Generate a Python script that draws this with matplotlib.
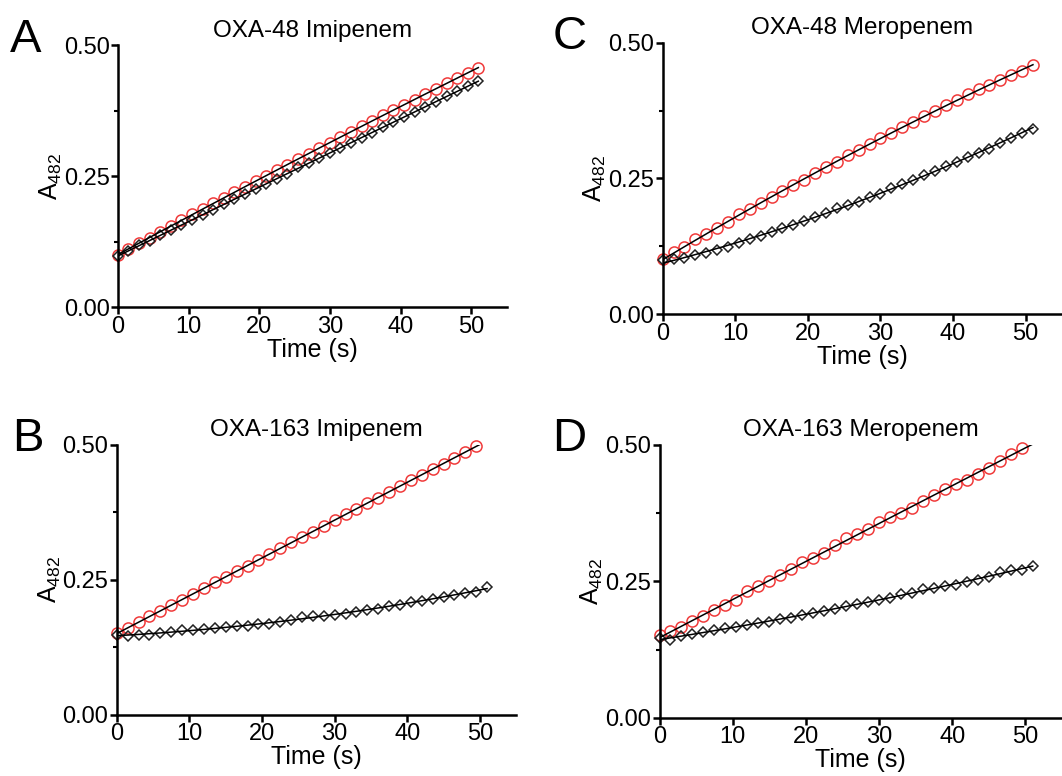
import numpy as np
import matplotlib
matplotlib.use('Agg')
import matplotlib.pyplot as plt
from matplotlib.ticker import MultipleLocator, FormatStrFormatter

plt.rcParams['font.family'] = ['Liberation Sans', 'DejaVu Sans']

# time points (s), one reading every 1.5 s
t_full = np.arange(0, 51.01, 1.5)

# A: OXA-48 Imipenem
a_red = [0.100, 0.112, 0.122, 0.133, 0.144, 0.155, 0.166, 0.177, 0.187, 0.198,
         0.209, 0.219, 0.230, 0.241, 0.251, 0.262, 0.272, 0.283, 0.293, 0.304,
         0.314, 0.324, 0.335, 0.345, 0.355, 0.366, 0.376, 0.386, 0.396, 0.406,
         0.417, 0.427, 0.437, 0.447, 0.457]
a_blk = [0.098, 0.108, 0.118, 0.127, 0.137, 0.147, 0.157, 0.166, 0.176, 0.186,
         0.196, 0.206, 0.216, 0.225, 0.235, 0.245, 0.255, 0.267, 0.276, 0.285,
         0.294, 0.304, 0.314, 0.323, 0.333, 0.343, 0.353, 0.363, 0.372, 0.382,
         0.392, 0.402, 0.412, 0.421, 0.431]

# C: OXA-48 Meropenem
c_red = [0.101, 0.114, 0.124, 0.138, 0.147, 0.159, 0.170, 0.184, 0.193, 0.205,
         0.216, 0.227, 0.238, 0.248, 0.261, 0.271, 0.281, 0.293, 0.303, 0.313,
         0.324, 0.334, 0.344, 0.354, 0.365, 0.374, 0.385, 0.394, 0.405, 0.414,
         0.423, 0.432, 0.440, 0.448, 0.459]
c_blk = [0.100, 0.101, 0.104, 0.109, 0.113, 0.119, 0.124, 0.132, 0.138, 0.144,
         0.152, 0.158, 0.164, 0.171, 0.179, 0.187, 0.195, 0.201, 0.207, 0.215,
         0.222, 0.232, 0.239, 0.248, 0.256, 0.264, 0.273, 0.281, 0.289, 0.297,
         0.305, 0.316, 0.325, 0.334, 0.342]

# B: OXA-163 Imipenem
b_red = [0.151, 0.160, 0.171, 0.182, 0.192, 0.203, 0.213, 0.224, 0.234, 0.245,
         0.255, 0.266, 0.276, 0.287, 0.297, 0.308, 0.319, 0.329, 0.339, 0.350,
         0.360, 0.371, 0.380, 0.392, 0.402, 0.413, 0.423, 0.434, 0.444, 0.455,
         0.465, 0.476, 0.486, 0.497]
b_blk = [0.148, 0.145, 0.148, 0.148, 0.151, 0.154, 0.156, 0.157, 0.159, 0.160,
         0.162, 0.165, 0.165, 0.167, 0.168, 0.171, 0.175, 0.181, 0.182, 0.183,
         0.185, 0.187, 0.191, 0.194, 0.196, 0.201, 0.204, 0.209, 0.210, 0.215,
         0.218, 0.222, 0.225, 0.228, 0.236]

# D: OXA-163 Meropenem
d_red = [0.152, 0.159, 0.166, 0.177, 0.186, 0.197, 0.207, 0.216, 0.232, 0.241,
         0.250, 0.262, 0.273, 0.285, 0.293, 0.302, 0.317, 0.329, 0.337, 0.346,
         0.358, 0.368, 0.375, 0.384, 0.396, 0.407, 0.418, 0.428, 0.436, 0.447,
         0.457, 0.470, 0.482, 0.494]
d_blk = [0.146, 0.143, 0.149, 0.154, 0.157, 0.160, 0.164, 0.166, 0.169, 0.173,
         0.176, 0.180, 0.183, 0.188, 0.192, 0.195, 0.199, 0.204, 0.209, 0.212,
         0.216, 0.220, 0.226, 0.229, 0.235, 0.238, 0.241, 0.244, 0.248, 0.253,
         0.258, 0.267, 0.270, 0.271, 0.277]

panels = [
    ('A', 'OXA-48 Imipenem', a_red, a_blk, [0.111, 0.604, 0.366, 0.338], -0.278),
    ('C', 'OXA-48 Meropenem', c_red, c_blk, [0.624, 0.595, 0.376, 0.350], -0.276),
    ('B', 'OXA-163 Imipenem', b_red, b_blk, [0.110, 0.079, 0.376, 0.348], -0.263),
    ('D', 'OXA-163 Meropenem', d_red, d_blk, [0.621, 0.075, 0.379, 0.352], -0.266),
]

fig = plt.figure(figsize=(10.62, 7.76), dpi=100)

for letter, title, red, blk, pos, lx in panels:
    ax = fig.add_axes(pos)
    t_r = t_full[:len(red)]
    t_b = t_full[:len(blk)]
    tt = np.linspace(0, 51, 200)
    # fitted curves
    pr = np.polyfit(t_r, red, 2)
    pb = np.polyfit(t_b, blk, 2)
    ax.plot(t_r, red, 'o', mfc='none', mec='#f03a3a', ms=8, mew=1.1, zorder=2, clip_on=False)
    ax.plot(t_b, blk, 'D', mfc='none', mec='#222222', ms=5, mew=1.1, zorder=2, clip_on=False)
    ax.plot(tt, np.polyval(pr, tt), color='black', lw=1.1, zorder=3)
    ax.plot(tt, np.polyval(pb, tt), color='black', lw=1.1, zorder=3)

    ax.set_xlim(0, 55)
    ax.set_ylim(0, 0.5)
    ax.xaxis.set_major_locator(MultipleLocator(10))
    ax.yaxis.set_major_locator(MultipleLocator(0.25))
    ax.yaxis.set_minor_locator(MultipleLocator(0.125))
    ax.yaxis.set_major_formatter(FormatStrFormatter('%.2f'))
    for s in ['top', 'right']:
        ax.spines[s].set_visible(False)
    for s in ['left', 'bottom']:
        ax.spines[s].set_linewidth(1.8)
    ax.tick_params(which='major', length=5, width=1.8, labelsize=17, pad=1)
    ax.tick_params(which='minor', length=3, width=1.5)
    ax.set_xlabel('Time (s)', fontsize=18, labelpad=0)
    ax.set_ylabel(r'$\mathregular{A_{482}}$', fontsize=18, labelpad=0)
    ax.set_title(title, fontsize=17.5, pad=6)
    ax.text(lx, 1.02, letter, transform=ax.transAxes, fontsize=34,
            ha='left', va='center')

fig.savefig('out.png', dpi=100)
